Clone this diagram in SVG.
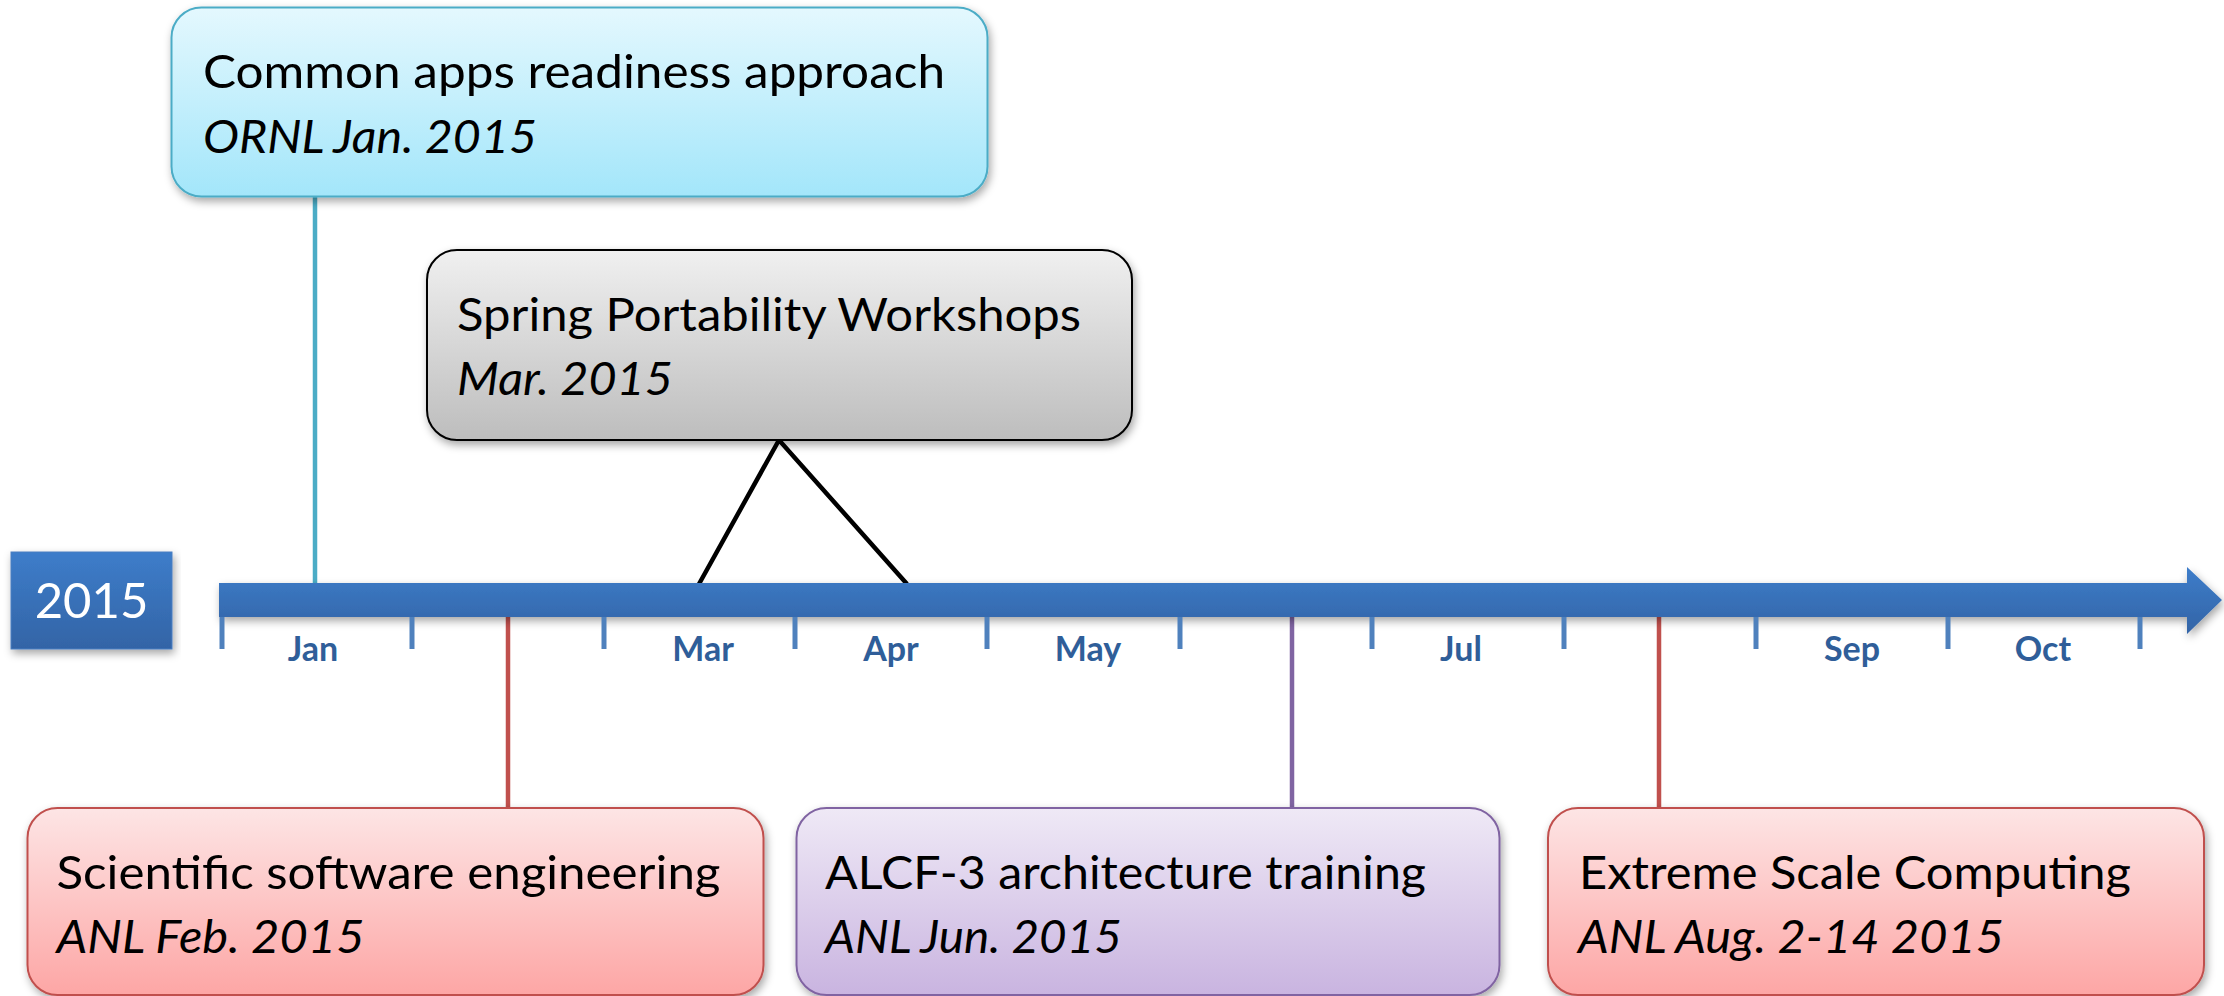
<svg xmlns="http://www.w3.org/2000/svg" width="2224" height="996" viewBox="0 0 2224 996">
  <style>
    .title { font-family: Lato, "Liberation Sans", sans-serif; font-size: 47px; fill: #000; }
    .sub { font-family: Lato, "Liberation Sans", sans-serif; font-size: 47px; font-style: italic; fill: #000; }
    .month { font-family: Lato, "Liberation Sans", sans-serif; font-size: 34px; font-weight: bold; fill: #2f5e99; text-anchor: middle; }
    .year { font-family: Lato, "Liberation Sans", sans-serif; font-size: 49px; fill: #fff; text-anchor: middle; }
    .tick { stroke: #4f81bd; stroke-width: 5; }
    .link { stroke-width: 4.5; fill: none; }
    .box { stroke-width: 2; filter: url(#shadow); }
  </style>
  <defs>
    <linearGradient id="gBlue" x1="0" y1="0" x2="0" y2="1">
      <stop offset="0" stop-color="#3d7dca"/>
      <stop offset="1" stop-color="#3364a6"/>
    </linearGradient>
    <linearGradient id="gCyan" x1="0" y1="0" x2="0" y2="1">
      <stop offset="0" stop-color="#e4f8fe"/>
      <stop offset="1" stop-color="#a3e6fa"/>
    </linearGradient>
    <linearGradient id="gGray" x1="0" y1="0" x2="0" y2="1">
      <stop offset="0" stop-color="#f0f0f0"/>
      <stop offset="1" stop-color="#bdbdbd"/>
    </linearGradient>
    <linearGradient id="gRed" x1="0" y1="0" x2="0" y2="1">
      <stop offset="0" stop-color="#fde5e5"/>
      <stop offset="1" stop-color="#fda6a5"/>
    </linearGradient>
    <linearGradient id="gPurple" x1="0" y1="0" x2="0" y2="1">
      <stop offset="0" stop-color="#efe9f6"/>
      <stop offset="1" stop-color="#c9b4e0"/>
    </linearGradient>
    <filter id="shadow" x="-5%" y="-10%" width="110%" height="125%">
      <feDropShadow dx="2" dy="4" stdDeviation="4" flood-color="#000" flood-opacity="0.35"/>
    </filter>
  </defs>

  <!-- connectors from events to the time axis -->
  <g id="connectors">
    <line class="link" x1="315" y1="196" x2="315" y2="584" stroke="#4bacc6"/>
    <polyline class="link" points="699,584 779,440 907,584" stroke="#000"/>
    <line class="link" x1="508" y1="616" x2="508" y2="808" stroke="#c0504d"/>
    <line class="link" x1="1292" y1="616" x2="1292" y2="808" stroke="#8064a2"/>
    <line class="link" x1="1659" y1="616" x2="1659" y2="808" stroke="#c0504d"/>
  </g>

  <!-- time axis -->
  <g id="axis">
    <path d="M219,583 H2187 V567 L2222,600 L2187,634 V617 H219 Z" fill="url(#gBlue)" filter="url(#shadow)"/>
    <g id="ticks">
      <line class="tick" x1="222" y1="617" x2="222" y2="649"/>
      <line class="tick" x1="412" y1="617" x2="412" y2="649"/>
      <line class="tick" x1="604" y1="617" x2="604" y2="649"/>
      <line class="tick" x1="795" y1="617" x2="795" y2="649"/>
      <line class="tick" x1="987" y1="617" x2="987" y2="649"/>
      <line class="tick" x1="1180" y1="617" x2="1180" y2="649"/>
      <line class="tick" x1="1372" y1="617" x2="1372" y2="649"/>
      <line class="tick" x1="1564" y1="617" x2="1564" y2="649"/>
      <line class="tick" x1="1756" y1="617" x2="1756" y2="649"/>
      <line class="tick" x1="1948" y1="617" x2="1948" y2="649"/>
      <line class="tick" x1="2140" y1="617" x2="2140" y2="649"/>
    </g>
    <g id="months">
      <text class="month" x="313" y="661">Jan</text>
      <text class="month" x="703" y="661">Mar</text>
      <text class="month" x="891" y="661">Apr</text>
      <text class="month" x="1088" y="661">May</text>
      <text class="month" x="1461" y="661">Jul</text>
      <text class="month" x="1852" y="661">Sep</text>
      <text class="month" x="2043" y="661">Oct</text>
    </g>
  </g>

  <g id="year">
    <rect x="11" y="552" width="161" height="97" fill="url(#gBlue)" stroke="#4a7fc0" stroke-width="1" filter="url(#shadow)"/>
    <text class="year" x="91.5" y="618">2015</text>
  </g>

  <g id="ornl-jan">
    <rect class="box" x="171.5" y="7.5" width="816" height="189" rx="30" fill="url(#gCyan)" stroke="#4bacc6"/>
    <text class="title" x="203" y="88" textLength="742" lengthAdjust="spacingAndGlyphs">Common apps readiness approach</text>
    <text class="sub" x="203" y="153" textLength="334" lengthAdjust="spacingAndGlyphs">ORNL Jan. 2015</text>
  </g>

  <g id="spring-workshops">
    <rect class="box" x="427" y="250" width="705" height="190" rx="30" fill="url(#gGray)" stroke="#000"/>
    <text class="title" x="457" y="330.5" textLength="624" lengthAdjust="spacingAndGlyphs">Spring Portability Workshops</text>
    <text class="sub" x="457" y="395" textLength="216" lengthAdjust="spacingAndGlyphs">Mar. 2015</text>
  </g>

  <g id="anl-feb">
    <rect class="box" x="27.5" y="808" width="736" height="187" rx="30" fill="url(#gRed)" stroke="#c0504d"/>
    <text class="title" x="56.5" y="888.5" textLength="664" lengthAdjust="spacingAndGlyphs">Scientific software engineering</text>
    <text class="sub" x="56.5" y="953" textLength="308" lengthAdjust="spacingAndGlyphs">ANL Feb. 2015</text>
  </g>

  <g id="anl-jun">
    <rect class="box" x="796.5" y="808" width="703" height="187" rx="30" fill="url(#gPurple)" stroke="#8064a2"/>
    <text class="title" x="825" y="888.5" textLength="601" lengthAdjust="spacingAndGlyphs">ALCF-3 architecture training</text>
    <text class="sub" x="825" y="953" textLength="297" lengthAdjust="spacingAndGlyphs">ANL Jun. 2015</text>
  </g>

  <g id="anl-aug">
    <rect class="box" x="1548" y="808" width="656" height="187" rx="30" fill="url(#gRed)" stroke="#c0504d"/>
    <text class="title" x="1579" y="888.5" textLength="552" lengthAdjust="spacingAndGlyphs">Extreme Scale Computing</text>
    <text class="sub" x="1578" y="953" textLength="426" lengthAdjust="spacingAndGlyphs">ANL Aug. 2-14 2015</text>
  </g>
</svg>
